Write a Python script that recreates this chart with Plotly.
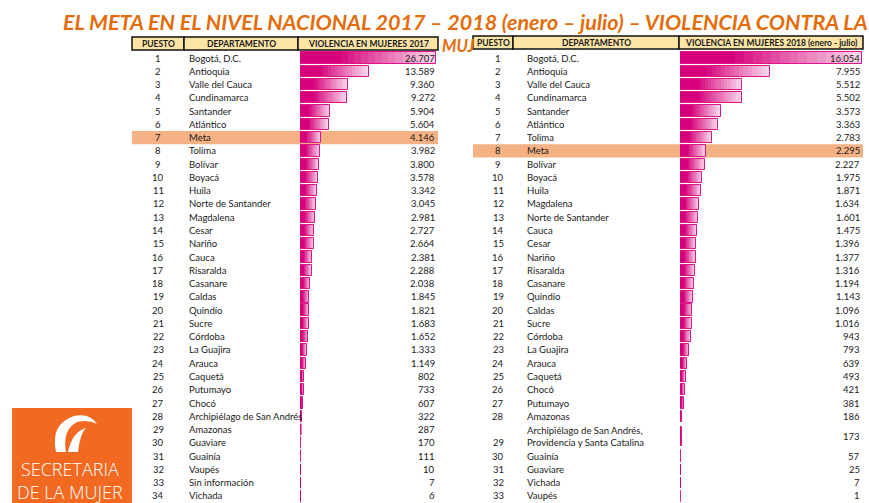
import plotly.graph_objects as go

# ---------------------------------------------------------------------------
# data
# ---------------------------------------------------------------------------
left_rank = list(range(1, 35))
left_dept = [
    "Bogotá, D.C.", "Antioquia", "Valle del Cauca", "Cundinamarca", "Santander",
    "Atlántico", "Meta", "Tolima", "Bolívar", "Boyacá", "Huila",
    "Norte de Santander", "Magdalena", "Cesar", "Nariño", "Cauca", "Risaralda",
    "Casanare", "Caldas", "Quindío", "Sucre", "Córdoba", "La Guajira", "Arauca",
    "Caquetá", "Putumayo", "Chocó", "Archipiélago de San Andrés", "Amazonas",
    "Guaviare", "Guainía", "Vaupés", "Sin información", "Vichada",
]
left_vals = [
    26707, 13589, 9360, 9272, 5904, 5604, 4146, 3982, 3800, 3578, 3342, 3045,
    2981, 2727, 2664, 2381, 2288, 2038, 1845, 1821, 1683, 1652, 1333, 1149,
    802, 733, 607, 322, 287, 170, 111, 10, 7, 6,
]

right_rank = list(range(1, 34))
right_dept = [
    "Bogotá, D.C.", "Antioquia", "Valle del Cauca", "Cundinamarca", "Santander",
    "Atlántico", "Tolima", "Meta", "Bolívar", "Boyacá", "Huila", "Magdalena",
    "Norte de Santander", "Cauca", "Cesar", "Nariño", "Risaralda", "Casanare",
    "Quindío", "Caldas", "Sucre", "Córdoba", "La Guajira", "Arauca", "Caquetá",
    "Chocó", "Putumayo", "Amazonas",
    "Archipiélago de San Andrés,<br>Providencia y Santa Catalina",
    "Guainía", "Guaviare", "Vichada", "Vaupés",
]
right_vals = [
    16054, 7955, 5512, 5502, 3573, 3363, 2783, 2295, 2227, 1975, 1871, 1634,
    1601, 1475, 1396, 1377, 1316, 1194, 1143, 1096, 1016, 943, 793, 639, 493,
    421, 381, 186, 173, 57, 25, 7, 1,
]

title = "EL META EN EL NIVEL NACIONAL 2017 – 2018 (enero – julio) – VIOLENCIA CONTRA LA"
headers_left = ["PUESTO", "DEPARTAMENTO", "VIOLENCIA EN MUJERES 2017"]
headers_right = ["PUESTO", "DEPARTAMENTO", "VIOLENCIA EN MUJERES 2018 (enero - julio)"]
highlight = "Meta"

# ---------------------------------------------------------------------------
W, H = 869, 503
ROW_PX = 13.27
FIRST_ROW_PX = 58
ORANGE = "#E46C0A"
TXT = "#1a1a1a"
FONT = "Lato"


def px(x):
    return x / W


def py(y):
    return 1 - y / H


def fmt(v):
    return f"{v:,}".replace(",", ".")


def slots(depts):
    # row position in "line" units; a two-line label takes two slots
    pos, cur = [], 1
    for d in depts:
        n = d.count("<br>") + 1
        pos.append(cur + (n - 1) / 2)
        cur += n
    return pos


left_y = slots(left_dept)
right_y = slots(right_dept)

dark = (214, 0, 122)
light = (249, 214, 234)


def grad_color(t):
    # dark until 30% of the bar, then fade to light pink
    s = max(0.0, (t - 0.3) / 0.7)
    c = [round(dark[i] + (light[i] - dark[i]) * s) for i in range(3)]
    return f"rgb({c[0]},{c[1]},{c[2]})"


def bar_widths(depts):
    return [0.85 + 0.6 * d.count("<br>") for d in depts]


fig = go.Figure()
steps = [1 - k / 20 for k in range(20)]

for vals, ys, depts, xa in [
    (left_vals, left_y, left_dept, "x"),
    (right_vals, right_y, right_dept, "x2"),
]:
    for f in steps:
        fig.add_trace(go.Bar(
            x=[v * f for v in vals], y=ys, orientation="h",
            width=bar_widths(depts), xaxis=xa, yaxis="y",
            marker=dict(color=grad_color(f), line=dict(width=0)),
            hoverinfo="skip", showlegend=False,
        ))
    fig.add_trace(go.Bar(
        x=vals, y=ys, orientation="h", width=bar_widths(depts),
        xaxis=xa, yaxis="y",
        marker=dict(color="rgba(0,0,0,0)", line=dict(color="#E0158C", width=1)),
        hoverinfo="skip", showlegend=False,
    ))

shapes = []
annotations = []

# highlight rows (Meta)
for depts, ys, x0, x1 in [
    (left_dept, left_y, 132, 438),
    (right_dept, right_y, 473, 863),
]:
    i = depts.index(highlight)
    shapes.append(dict(
        type="rect", xref="paper", yref="y", layer="below",
        x0=px(x0), x1=px(x1), y0=ys[i] - 0.5, y1=ys[i] + 0.5,
        fillcolor="#F4B183", line=dict(width=0),
    ))

# header boxes
for hdr, x_edges, top, bot in [
    (headers_left, [132, 184, 298, 438], 37, 50),
    (headers_right, [473, 513, 679, 863], 36, 49),
]:
    for j in range(3):
        shapes.append(dict(
            type="rect", xref="paper", yref="paper",
            x0=px(x_edges[j]), x1=px(x_edges[j + 1]), y0=py(bot), y1=py(top),
            fillcolor="#FCE4A6", line=dict(color="#111111", width=1.5),
        ))
        annotations.append(dict(
            xref="paper", yref="paper", x=px((x_edges[j] + x_edges[j + 1]) / 2),
            y=py((top + bot) / 2), text=f"<b>{hdr[j]}</b>", showarrow=False,
            xanchor="center", yanchor="middle",
            font=dict(family=FONT, size=8.5, color=TXT),
        ))

# table text
for ranks, depts, vals, ys, xr, xd, xv in [
    (left_rank, left_dept, left_vals, left_y, 158, 187, 437),
    (right_rank, right_dept, right_vals, right_y, 498, 525, 862),
]:
    for r, d, v, y in zip(ranks, depts, vals, ys):
        n = d.count("<br>") + 1
        annotations.append(dict(
            xref="paper", yref="y", x=px(xr), y=y + (n - 1) / 2, text=str(r),
            showarrow=False, xanchor="center", yanchor="middle",
            font=dict(family=FONT, size=9.5, color=TXT),
        ))
        annotations.append(dict(
            xref="paper", yref="y", x=px(xd), y=y, text=d, showarrow=False,
            xanchor="left", yanchor="middle", align="left",
            font=dict(family=FONT, size=9.5, color=TXT),
        ))
        annotations.append(dict(
            xref="paper", yref="y", x=px(xv), y=y, text=fmt(v), showarrow=False,
            xanchor="right", yanchor="middle",
            font=dict(family=FONT, size=9.5, color=TXT),
        ))

# title
annotations.append(dict(
    xref="paper", yref="paper", x=px(61), y=py(22), text=title,
    showarrow=False, xanchor="left", yanchor="middle",
    font=dict(family=FONT, size=21.5, color=ORANGE, weight="bold", style="italic"),
))
annotations.append(dict(
    xref="paper", yref="paper", x=px(440), y=py(46), text="MUJ",
    showarrow=False, xanchor="left", yanchor="middle",
    font=dict(family=FONT, size=16.5, color=ORANGE, weight="bold", style="italic"),
))

# logo
shapes.append(dict(
    type="rect", xref="paper", yref="paper", x0=px(12), x1=px(132),
    y0=py(503), y1=py(408), fillcolor="#F26A21", line=dict(width=0),
))
# stylised hair / face outline
for path in [
    f"M {px(56)} {py(452)} Q {px(50)} {py(424)} {px(74)} {py(416)} "
    f"Q {px(90)} {py(413)} {px(97)} {py(424)} Q {px(88)} {py(419)} "
    f"{px(77)} {py(422)} Q {px(62)} {py(430)} {px(66)} {py(452)} Z",
    f"M {px(68)} {py(452)} Q {px(72)} {py(432)} {px(86)} {py(428)} "
    f"Q {px(80)} {py(434)} {px(78)} {py(452)} Z",
]:
    shapes.append(dict(
        type="path", xref="paper", yref="paper", path=path,
        fillcolor="white", line=dict(width=0),
    ))
annotations.append(dict(
    xref="paper", yref="paper", x=px(70), y=py(480),
    text="SECRETARIA<br>DE LA MUJER",
    showarrow=False, xanchor="center", yanchor="middle", align="center",
    font=dict(family="Open Sans", size=18, color="white", weight=300),
))

y_lo = 1 + (H - FIRST_ROW_PX) / ROW_PX
y_hi = 1 - FIRST_ROW_PX / ROW_PX

fig.update_layout(
    width=W, height=H,
    margin=dict(l=0, r=0, t=0, b=0),
    paper_bgcolor="white", plot_bgcolor="rgba(0,0,0,0)",
    barmode="overlay", bargap=0,
    xaxis=dict(domain=[px(300), px(438)], range=[0, 26707 * 138 / 136],
               visible=False, fixedrange=True),
    xaxis2=dict(domain=[px(680), px(863)], range=[0, 16054 * 183 / 182],
                visible=False, anchor="y", fixedrange=True),
    yaxis=dict(domain=[0, 1], range=[y_lo, y_hi], visible=False, fixedrange=True),
    shapes=shapes,
    annotations=annotations,
)

fig.write_html(
    "out.html",
    config={"displayModeBar": False},
    post_script="document.body.style.margin='0';document.body.style.overflow='hidden';",
)
